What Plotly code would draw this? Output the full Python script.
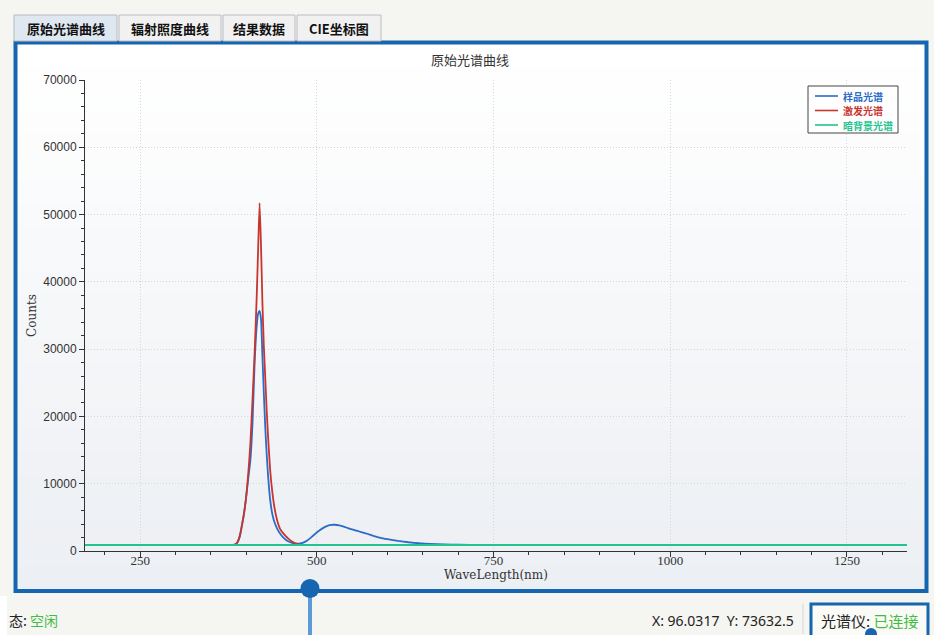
import plotly.graph_objects as go

# ---------------- data ----------------
wavelength = [172, 200, 250, 300, 350, 370, 380, 382, 385, 388, 391, 394, 397, 400, 403, 406,
              409, 412, 415, 417, 419, 421, 423, 425, 427, 429, 431, 434, 437, 440, 444,
              448, 452, 456, 460, 465, 470, 475, 480, 487, 495, 503, 511, 518, 525, 532,
              540, 550, 560, 570, 580, 590, 600, 615, 630, 645, 660, 680, 700, 730, 760,
              800, 900, 1000, 1100, 1200, 1300, 1335]

sample_counts = [900, 900, 900, 900, 900, 900, 905, 920, 980, 1300, 2100, 3800, 5600, 8000,
                 10800, 13500, 19000, 28000, 33500, 35300, 35700, 34500, 29000, 23500, 18500,
                 14500, 11200, 7600, 5500, 4300, 3300, 2600, 2050, 1680, 1420, 1220, 1120,
                 1110, 1200, 1600, 2300, 3000, 3550, 3850, 3900, 3800, 3550, 3200, 2900,
                 2600, 2250, 1950, 1750, 1500, 1300, 1150, 1050, 970, 930, 910, 900, 900,
                 900, 900, 900, 900, 900, 900]

excitation_counts = [900, 900, 900, 900, 900, 900, 905, 920, 1000, 1400, 2300, 3800, 5600,
                     8000, 11500, 16000, 22500, 29500, 38000, 45000, 51700, 45500, 37000,
                     30500, 25800, 21000, 17000, 12000, 8800, 6500, 4500, 3300, 2700, 2200,
                     1800, 1400, 1100, 950, 910, 900, 900, 900, 900, 900, 900, 900, 900, 900,
                     900, 900, 900, 900, 900, 900, 900, 900, 900, 900, 900, 900, 900, 900, 900,
                     900, 900, 900, 900, 900]

dark_counts = [890, 890, 890, 890, 890, 890, 890, 890, 890, 890, 890, 890, 890, 890, 890, 890,
               890, 890, 890, 890, 890, 890, 890, 890, 890, 890, 890, 890, 890, 890, 890, 890,
               890, 890, 890, 890, 890, 890, 890, 890, 890, 890, 890, 890, 890, 890, 890, 890,
               890, 890, 890, 890, 890, 890, 890, 890, 890, 890, 890, 890, 890, 890, 890, 890,
               890, 890, 890, 890]

series_names = ["样品光谱", "激发光谱", "暗背景光谱"]
x_ticks = [250, 500, 750, 1000, 1250]
y_ticks = [0, 10000, 20000, 30000, 40000, 50000, 60000, 70000]
tab_labels = ["原始光谱曲线", "辐射照度曲线", "结果数据", "CIE坐标图"]
chart_title = "原始光谱曲线"
x_title = "WaveLength(nm)"
y_title = "Counts"
status_label, status_value = "态:", "空闲"
cursor_text = "X: 96.0317  Y: 73632.5"
device_label, device_value = "光谱仪:", "已连接"

# ---------------- geometry helpers ----------------
W, H = 934, 635
L, R, T, B = 85, 907, 80, 551


def px(x):
    return (x - L) / (R - L)


def py(y):
    return (B - y) / (B - T)


colors = ["#2a6cc8", "#c8352e", "#22c48e"]

fig = go.Figure()
for name, ys, c in zip(series_names, [sample_counts, excitation_counts, dark_counts], colors):
    fig.add_trace(go.Scatter(
        x=wavelength, y=ys, mode="lines", name=name, showlegend=False,
        line=dict(color=c, width=1.8, shape="spline", smoothing=0.5),
        hoverinfo="skip"))

shapes = []
# left white strip of the window
shapes.append(dict(type="rect", xref="paper", yref="paper", x0=px(0), x1=px(7),
                   y0=py(635), y1=py(596), fillcolor="#ffffff", line=dict(width=0),
                   layer="below"))
# frame interior gradient
top_c = (255, 255, 255)
bot_c = (236, 239, 243)
n = 24
y_a, y_b = 44, 589
for i in range(n):
    t = i / (n - 1)
    c = tuple(int(round(top_c[k] + (bot_c[k] - top_c[k]) * t)) for k in range(3))
    ya = y_a + (y_b - y_a) * i / n
    yb = y_a + (y_b - y_a) * (i + 1) / n + 0.6
    shapes.append(dict(type="rect", xref="paper", yref="paper", x0=px(17), x1=px(925),
                       y0=py(yb), y1=py(ya), fillcolor="rgb(%d,%d,%d)" % c,
                       line=dict(width=0), layer="below"))
# frame border
shapes.append(dict(type="rect", xref="paper", yref="paper", x0=px(15.5), x1=px(926.5),
                   y0=py(591), y1=py(42.5), line=dict(color="#1665b0", width=4),
                   fillcolor="rgba(0,0,0,0)", layer="below"))
# tabs
tab_x = [(14, 117), (119, 221), (223, 295), (297, 381)]
for i, (a, b) in enumerate(tab_x):
    fill = "#dfe7f1" if i == 0 else "#f1f1f1"
    shapes.append(dict(type="rect", xref="paper", yref="paper", x0=px(a), x1=px(b),
                       y0=py(41), y1=py(15), fillcolor=fill,
                       line=dict(color="#b9bcc2", width=1), layer="below"))
# legend box + samples
lg_x0, lg_x1, lg_y0, lg_y1 = 808, 898, 86, 133
shapes.append(dict(type="rect", xref="paper", yref="paper", x0=px(lg_x0), x1=px(lg_x1),
                   y0=py(lg_y1), y1=py(lg_y0), fillcolor="#ffffff",
                   line=dict(color="#444", width=1)))
legend_rows = [96, 110.5, 125]
for yy, c in zip(legend_rows, colors):
    shapes.append(dict(type="line", xref="paper", yref="paper", x0=px(815), x1=px(838),
                       y0=py(yy), y1=py(yy), line=dict(color=c, width=1.6)))
# slider
shapes.append(dict(type="rect", xref="paper", yref="paper", x0=px(308), x1=px(312),
                   y0=py(635), y1=py(590), fillcolor="#5b9bd8", line=dict(width=0)))
shapes.append(dict(type="circle", xref="paper", yref="paper", x0=px(300.5), x1=px(319.5),
                   y0=py(598), y1=py(579), fillcolor="#1665b0", line=dict(width=0)))
# separator
shapes.append(dict(type="line", xref="paper", yref="paper", x0=px(803), x1=px(803),
                   y0=py(634), y1=py(604), line=dict(color="#d4d4d4", width=1)))
# device box
shapes.append(dict(type="rect", xref="paper", yref="paper", x0=px(811), x1=px(928),
                   y0=py(637), y1=py(604), fillcolor="#fafaf6",
                   line=dict(color="#1665b0", width=3)))
shapes.append(dict(type="circle", xref="paper", yref="paper", x0=px(865), x1=px(877),
                   y0=py(640), y1=py(628), fillcolor="#1665b0", line=dict(width=0)))

annotations = []
tab_font = dict(family="Noto Sans CJK SC", size=13, color="#111")
for (a, b), lab in zip(tab_x, tab_labels):
    annotations.append(dict(text=f"<b>{lab}</b>", xref="paper", yref="paper",
                            x=px((a + b) / 2), y=py(28.5), showarrow=False,
                            xanchor="center", yanchor="middle", font=tab_font))
for yy, c, name in zip(legend_rows, colors, series_names):
    annotations.append(dict(text=f"<b>{name}</b>", xref="paper", yref="paper",
                            x=px(841), y=py(yy), showarrow=False,
                            xanchor="left", yanchor="middle",
                            font=dict(family="Noto Sans CJK SC", size=10, color=c)))
annotations.append(dict(text=chart_title, xref="paper", yref="paper", x=px(470), y=py(59),
                        showarrow=False, xanchor="center", yanchor="middle",
                        font=dict(family="Noto Sans CJK SC", size=13, color="#333")))
annotations.append(dict(text=f'{status_label} <span style="color:#44bb44">{status_value}</span>',
                        xref="paper", yref="paper", x=px(7), y=py(620), showarrow=False,
                        xanchor="left", yanchor="middle",
                        font=dict(family="Noto Sans CJK SC", size=14, color="#222")))
annotations.append(dict(text=cursor_text, xref="paper", yref="paper", x=px(796), y=py(620),
                        showarrow=False, xanchor="right", yanchor="middle",
                        font=dict(family="Noto Sans", size=14, color="#222")))
annotations.append(dict(text=f'{device_label} <span style="color:#44bb44">{device_value}</span>',
                        xref="paper", yref="paper", x=px(870), y=py(620), showarrow=False,
                        xanchor="center", yanchor="middle",
                        font=dict(family="Noto Sans CJK SC", size=15, color="#222")))

axis_common = dict(showline=True, linecolor="#333", linewidth=1, ticks="outside",
                   ticklen=5, tickcolor="#333", showgrid=True, gridcolor="#d4d6da",
                   griddash="1px,2px", gridwidth=1, zeroline=False)

fig.update_layout(
    width=W, height=H,
    margin=dict(l=L, r=W - R, t=T, b=H - B, pad=0),
    paper_bgcolor="#f5f5f2",
    plot_bgcolor="rgba(0,0,0,0)",
    shapes=shapes,
    annotations=annotations,
    showlegend=False,
    xaxis=dict(range=[172, 1335], tickvals=x_ticks, ticktext=[str(v) for v in x_ticks],
               minor=dict(dtick=50, tick0=0, ticks="outside", ticklen=3, tickcolor="#333",
                          showgrid=False),
               tickfont=dict(family="Liberation Serif", size=13, color="#333"),
               ticklabelstandoff=-8,
               title=dict(text=x_title, standoff=3,
                          font=dict(family="DejaVu Serif", size=12, color="#333")),
               **axis_common),
    yaxis=dict(range=[0, 70000], tickvals=y_ticks, ticktext=[str(v) for v in y_ticks],
               minor=dict(dtick=2000, tick0=0, ticks="outside", ticklen=3, tickcolor="#333",
                          showgrid=False),
               tickfont=dict(family="Liberation Sans", size=12, color="#333"),
               title=dict(text=y_title, standoff=4,
                          font=dict(family="DejaVu Serif", size=12, color="#333")),
               **axis_common),
)

fig.write_html("out.html", config={"displayModeBar": False},
               post_script="document.body.style.margin='0';document.body.style.overflow='hidden';")
